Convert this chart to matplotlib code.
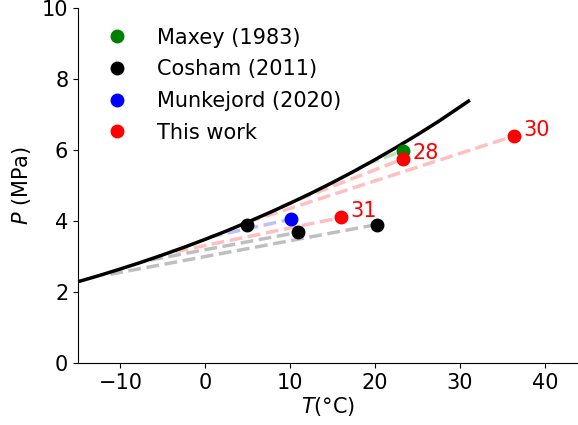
import numpy as np
import matplotlib.pyplot as plt

# CO2 saturation line
sat_T = [-15, -12.5, -10, -7.5, -5, -2.5, 0, 2.5, 5, 7.5, 10, 12.5, 15,
         17.5, 20, 22.5, 25, 27.5, 30, 31]
sat_P = [2.290, 2.464, 2.649, 2.842, 3.047, 3.260, 3.485, 3.720, 3.970,
         4.230, 4.502, 4.787, 5.086, 5.400, 5.729, 6.074, 6.434, 6.811,
         7.214, 7.377]

# initial states
maxey_T = [23.3]
maxey_P = [5.98]
cosham_T = [4.9, 10.9, 20.2]
cosham_P = [3.90, 3.68, 3.90]
munk_T = [10.1]
munk_P = [4.05]
work_T = [23.3, 36.4, 16.0]
work_P = [5.75, 6.40, 4.10]
work_labels = ['28', '30', '31']

# decompression paths: (T start, P start) on the saturation line -> initial state
maxey_path_T = [19.0]
maxey_path_P = [5.60]
cosham_path_T = [-6.5, -11.2]
cosham_path_P = [2.90, 2.50]
munk_path_T = [0.5]
munk_path_P = [3.55]
work_path_T = [9.0, 5.0, -3.5]
work_path_P = [4.42, 3.97, 3.14]

fig = plt.figure(figsize=(5.78, 4.25), dpi=100)
ax = fig.add_axes([78/578, 1-363/425, 1-78/578, (363-8)/425])

def paths(T0, P0, T1, P1, c):
    for a, b, x, y in zip(T0, P0, T1, P1):
        ax.plot([a, x], [b, y], '--', color=c, lw=2.5, alpha=0.25)

paths(maxey_path_T, maxey_path_P, maxey_T, maxey_P, 'green')
paths(cosham_path_T, cosham_path_P, cosham_T[1:], cosham_P[1:], 'black')
paths(munk_path_T, munk_path_P, munk_T, munk_P, 'blue')
paths(work_path_T, work_path_P, work_T, work_P, 'red')

ax.plot(sat_T, sat_P, 'k-', lw=2.5)

ax.plot(maxey_T, maxey_P, 'o', color='green', ms=9, label='Maxey (1983)')
ax.plot(cosham_T, cosham_P, 'o', color='black', ms=9, label='Cosham (2011)')
ax.plot(munk_T, munk_P, 'o', color='blue', ms=9, label='Munkejord (2020)')
ax.plot(work_T, work_P, 'o', color='red', ms=9, label='This work')

for t, p, s in zip(work_T, work_P, work_labels):
    ax.annotate(s, (t, p), xytext=(6.5, 4.5), textcoords='offset points',
                color='red', fontsize=15, va='center')

ax.set_xlim(-15, 43.9)
ax.set_ylim(0, 10)
ax.spines['top'].set_visible(False)
ax.spines['right'].set_visible(False)
ax.tick_params(labelsize=15)
ax.set_xlabel('$T$(°C)', fontsize=15, labelpad=2)
ax.set_ylabel('$P$ (MPa)', fontsize=15, labelpad=6)
ax.legend(loc='upper left', frameon=False, fontsize=15, handletextpad=0.9,
          labelspacing=0.56, borderaxespad=0, bbox_to_anchor=(0.02, 0.968))

fig.savefig('out.png', dpi=100)
